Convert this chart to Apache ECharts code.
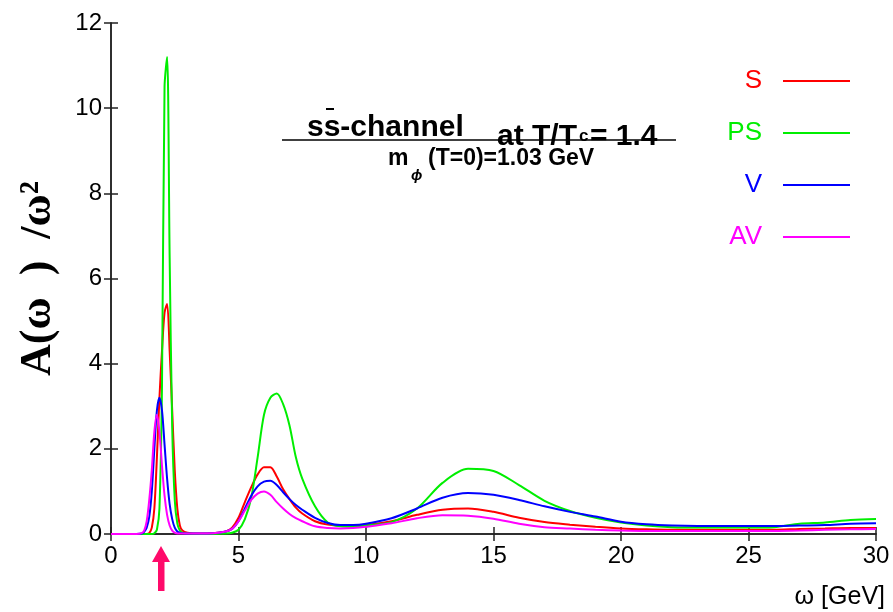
<!DOCTYPE html>
<html>
<head>
<meta charset="utf-8">
<script src="https://cdn.jsdelivr.net/npm/echarts@6/dist/echarts.min.js"></script>
<style>html,body{margin:0;padding:0;background:#fff;}#c{width:893px;height:612px;}</style>
</head>
<body>
<div id="c"></div>
<script>
var omega = [0, 1.0, 1.2, 1.3, 1.4, 1.5, 1.6, 1.7, 1.8, 1.9, 2.0, 2.1, 2.2, 2.3, 2.4, 2.5, 2.6, 2.7, 2.8, 3.0,
  3.5, 4.0, 4.5, 4.75, 5.0, 5.25, 5.5, 5.75, 6.0, 6.25, 6.5, 6.75, 7.0, 7.25, 7.5, 8.0, 8.5, 9.0, 9.5, 10,
  11, 12, 13, 14, 15, 16, 17, 18, 19, 20, 21, 22, 23, 24, 25, 26, 27, 28, 29, 30];
var S = [0, 0, 0, 0, 0, 0.02, 0.15, 0.6, 1.8, 3.2, 4.3, 5.2, 5.4, 4.3, 2.9, 1.5, 0.6, 0.2, 0.08, 0.03,
  0.01, 0.02, 0.06, 0.15, 0.38, 0.75, 1.1, 1.4, 1.57, 1.57, 1.35, 1.05, 0.82, 0.62, 0.48, 0.3, 0.22, 0.2, 0.2, 0.21,
  0.3, 0.45, 0.57, 0.6, 0.52, 0.38, 0.28, 0.22, 0.17, 0.13, 0.11, 0.1, 0.1, 0.1, 0.1, 0.1, 0.12, 0.13, 0.14, 0.14];
var PS = [0, 0, 0, 0, 0, 0, 0, 0.02, 0.1, 0.6, 3.5, 10.5, 11.2, 6.5, 2.5, 0.8, 0.25, 0.08, 0.03, 0.01,
  0, 0, 0.01, 0.03, 0.1, 0.35, 0.85, 1.8, 2.8, 3.2, 3.3, 3.05, 2.55, 1.8, 1.3, 0.65, 0.27, 0.18, 0.17, 0.2,
  0.28, 0.6, 1.2, 1.53, 1.48, 1.15, 0.78, 0.54, 0.38, 0.27, 0.2, 0.16, 0.15, 0.15, 0.15, 0.16, 0.24, 0.27, 0.33, 0.35];
var V = [0, 0, 0.01, 0.05, 0.15, 0.4, 1.0, 2.0, 2.9, 3.2, 2.9, 2.1, 1.3, 0.7, 0.35, 0.15, 0.06, 0.03, 0.02, 0.01,
  0.01, 0.02, 0.06, 0.12, 0.3, 0.6, 0.9, 1.12, 1.23, 1.25, 1.15, 0.98, 0.82, 0.68, 0.57, 0.38, 0.26, 0.21, 0.21, 0.24,
  0.37, 0.6, 0.85, 0.96, 0.92, 0.8, 0.65, 0.52, 0.41, 0.29, 0.23, 0.2, 0.19, 0.19, 0.19, 0.19, 0.2, 0.21, 0.24, 0.25];
var AV = [0, 0, 0.02, 0.08, 0.3, 0.8, 1.5, 2.4, 2.8, 2.4, 1.6, 0.9, 0.45, 0.2, 0.08, 0.03, 0.01, 0.01, 0.01, 0.01,
  0.01, 0.02, 0.06, 0.12, 0.3, 0.55, 0.8, 0.95, 1.0, 0.92, 0.75, 0.6, 0.47, 0.37, 0.3, 0.18, 0.14, 0.13, 0.14, 0.17,
  0.25, 0.37, 0.44, 0.43, 0.36, 0.24, 0.16, 0.13, 0.1, 0.08, 0.07, 0.07, 0.07, 0.07, 0.07, 0.07, 0.08, 0.1, 0.11, 0.12];
var seriesNames = ['S', 'PS', 'V', 'AV'];
var seriesColors = ['#ff0000', '#00ee00', '#0000ff', '#ff00ff'];
var seriesValues = [S, PS, V, AV];

function pairs(vals) { return omega.map(function (w, i) { return [w, vals[i]]; }); }

var chart = echarts.init(document.getElementById('c'), null, { renderer: 'canvas' });
var FONT = '"Liberation Sans", Arial, sans-serif';
var axisLine = { show: true, lineStyle: { color: '#222', width: 1.5 } };
var tick = { show: true, inside: true, length: 7, lineStyle: { color: '#222', width: 1.5 } };

var option = {
  animation: false,
  backgroundColor: '#fff',
  grid: { left: 111, right: 17, top: 23, bottom: 78, containLabel: false, outerBoundsMode: 'none' },
  legend: {
    orient: 'vertical', right: 38, top: 59, align: 'right',
    itemWidth: 67, itemHeight: 2, itemGap: 18, icon: 'rect',
    textStyle: { fontFamily: FONT, fontSize: 26, lineHeight: 26, padding: [0, 16, 8, 0] },
    data: seriesNames.map(function (n, i) { return { name: n, textStyle: { color: seriesColors[i] } }; })
  },
  xAxis: [
    { type: 'value', min: 0, max: 30, interval: 5, position: 'bottom',
      axisLine: axisLine, axisTick: tick, splitLine: { show: false },
      axisLabel: { fontFamily: FONT, fontSize: 24, color: '#000', margin: 10 } },
    { type: 'value', min: 0, max: 30, interval: 5, position: 'top',
      axisLine: axisLine, axisTick: tick, splitLine: { show: false }, axisLabel: { show: false } }
  ],
  yAxis: [
    { type: 'value', min: 0, max: 12, interval: 2, position: 'left',
      axisLine: axisLine, axisTick: tick, splitLine: { show: false },
      axisLabel: { fontFamily: FONT, fontSize: 24, color: '#000', margin: 9 },
      name: 'A(ω  )  /ω²', nameLocation: 'middle', nameRotate: 90, nameGap: 50,
      nameTextStyle: { fontFamily: '"Liberation Serif", "Times New Roman", serif', fontWeight: 'bold', fontSize: 44, color: '#000' } },
    { type: 'value', min: 0, max: 12, interval: 2, position: 'right',
      axisLine: axisLine, axisTick: tick, splitLine: { show: false }, axisLabel: { show: false } }
  ],
  series: seriesNames.map(function (n, i) {
    return { name: n, type: 'line', xAxisIndex: 0, yAxisIndex: 0, data: pairs(seriesValues[i]),
      showSymbol: false, symbol: 'none', smooth: 0.3,
      lineStyle: { color: seriesColors[i], width: 2 }, itemStyle: { color: seriesColors[i] } };
  }),
  graphic: [
    { type: 'line', shape: { x1: 282, y1: 140, x2: 676, y2: 140 }, style: { stroke: '#000', lineWidth: 1.5 } },
    { type: 'text', style: { x: 307, y: 128, text: 'ss-channel', font: 'bold 30px ' + FONT, fill: '#000', textVerticalAlign: 'middle', verticalAlign: 'middle' } },
    { type: 'line', shape: { x1: 326, y1: 109, x2: 334, y2: 109 }, style: { stroke: '#000', lineWidth: 2 } },
    { type: 'text', style: { x: 497, y: 137, text: 'at T/T', font: 'bold 30px ' + FONT, fill: '#000', textVerticalAlign: 'middle', verticalAlign: 'middle' } },
    { type: 'text', style: { x: 579, y: 136, text: 'c', font: 'bold 17px ' + FONT, fill: '#000', textVerticalAlign: 'middle', verticalAlign: 'middle' } },
    { type: 'text', style: { x: 590, y: 137, text: '= 1.4', font: 'bold 30px ' + FONT, fill: '#000', textVerticalAlign: 'middle', verticalAlign: 'middle' } },
    { type: 'text', style: { x: 388, y: 159, text: 'm', font: 'bold 23px ' + FONT, fill: '#000', textVerticalAlign: 'middle', verticalAlign: 'middle' } },
    { type: 'text', style: { x: 411, y: 176, text: 'ϕ', font: 'italic bold 15px ' + FONT, fill: '#000', textVerticalAlign: 'middle', verticalAlign: 'middle' } },
    { type: 'text', style: { x: 428, y: 159, text: '(T=0)=1.03 GeV', font: 'bold 23px ' + FONT, fill: '#000', textVerticalAlign: 'middle', verticalAlign: 'middle' } },
    { type: 'text', style: { x: 885, y: 597, text: 'ω [GeV]', font: '25px ' + FONT, fill: '#000', textAlign: 'right', align: 'right', textVerticalAlign: 'middle', verticalAlign: 'middle' } },
    { type: 'polygon', shape: { points: [[161, 546], [152, 562], [170, 562]] }, style: { fill: '#ff0a6a' } },
    { type: 'rect', shape: { x: 158, y: 560, width: 6.5, height: 31 }, style: { fill: '#ff0a6a' } }
  ]
};
chart.setOption(option);
</script>
</body>
</html>
